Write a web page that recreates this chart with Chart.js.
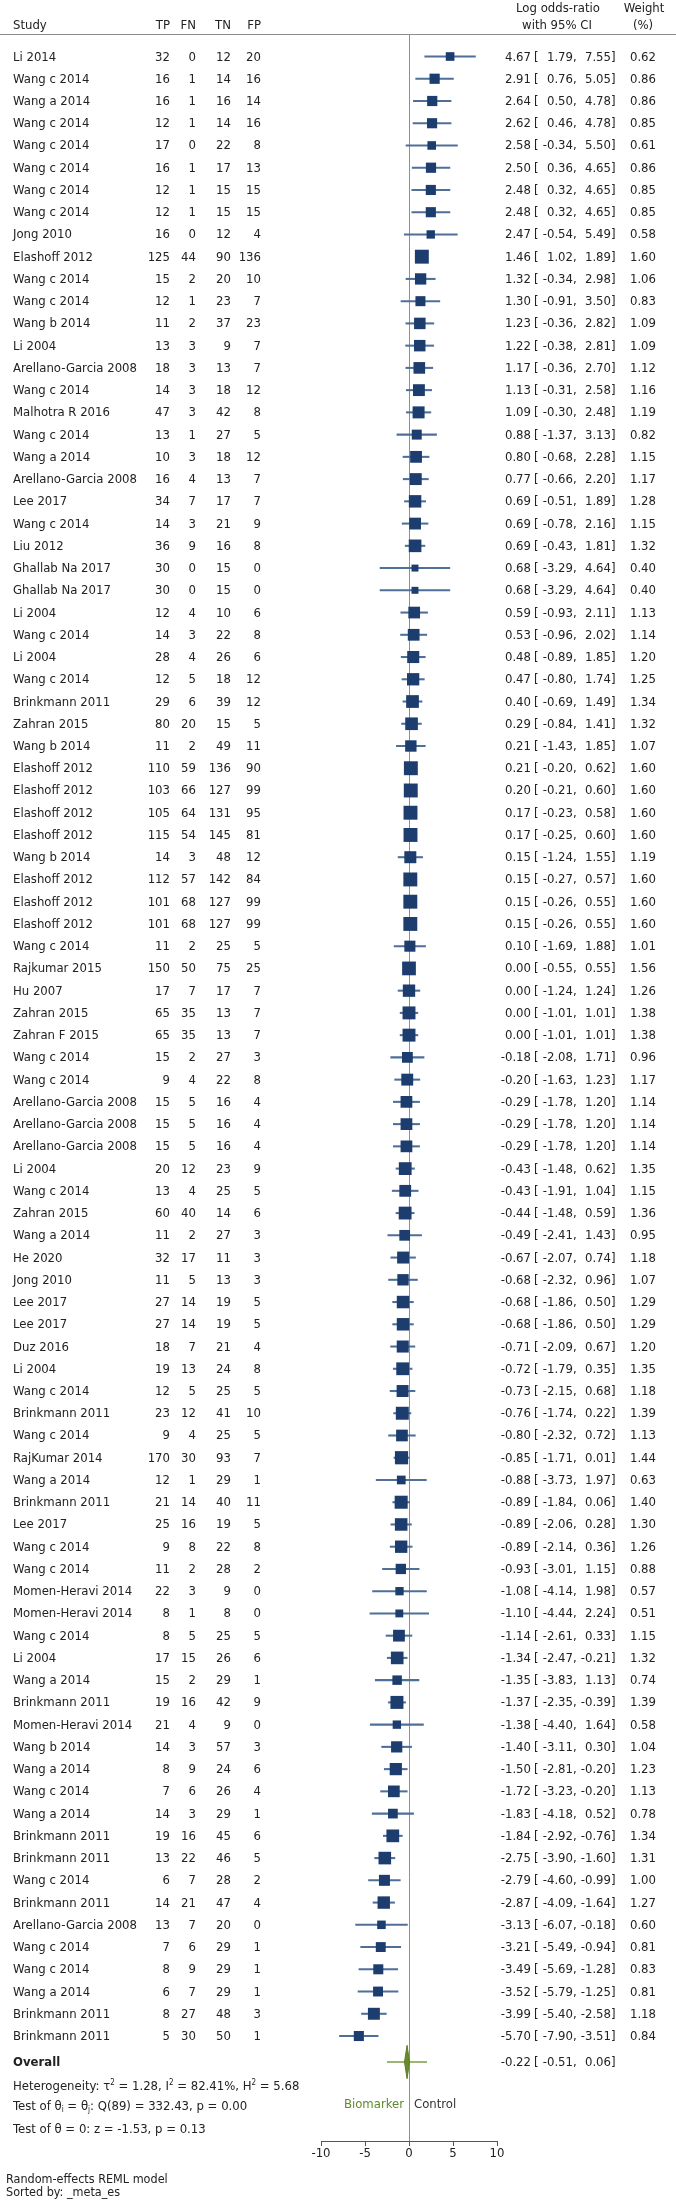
<!DOCTYPE html>
<html><head><meta charset="utf-8">
<script src="https://cdn.jsdelivr.net/npm/chart.js@4.4.0/dist/chart.umd.min.js"></script>
<style>
html,body{margin:0;padding:0;background:#fff;}
#wrap{position:relative;width:676px;height:2202px;overflow:hidden;background:#fff;}
#c{position:absolute;left:0;top:0;}
#ov{position:absolute;left:0;top:0;width:676px;height:2202px;font-family:"DejaVu Sans Condensed","DejaVu Sans",sans-serif;font-stretch:condensed;font-size:13px;color:#222;}
.t{position:absolute;white-space:nowrap;line-height:16px;height:16px;}
sup,sub{font-size:8px;line-height:0;}
sup{vertical-align:5px;} sub{vertical-align:-2px;}
#hline{position:absolute;left:0;width:676px;top:34px;height:1px;background:#8c8c8c;}
</style></head><body>
<div id="wrap"><canvas id="c" width="676" height="2202"></canvas><div id="ov"><div id="hline"></div></div></div>
<script>
const studies = ["Li 2014","Wang c 2014","Wang a 2014","Wang c 2014","Wang c 2014","Wang c 2014","Wang c 2014","Wang c 2014","Jong 2010","Elashoff 2012",
"Wang c 2014","Wang c 2014","Wang b 2014","Li 2004","Arellano-Garcia 2008","Wang c 2014","Malhotra R 2016","Wang c 2014","Wang a 2014","Arellano-Garcia 2008",
"Lee 2017","Wang c 2014","Liu 2012","Ghallab Na 2017","Ghallab Na 2017","Li 2004","Wang c 2014","Li 2004","Wang c 2014","Brinkmann 2011",
"Zahran 2015","Wang b 2014","Elashoff 2012","Elashoff 2012","Elashoff 2012","Elashoff 2012","Wang b 2014","Elashoff 2012","Elashoff 2012","Elashoff 2012",
"Wang c 2014","Rajkumar 2015","Hu 2007","Zahran 2015","Zahran F 2015","Wang c 2014","Wang c 2014","Arellano-Garcia 2008","Arellano-Garcia 2008","Arellano-Garcia 2008",
"Li 2004","Wang c 2014","Zahran 2015","Wang a 2014","He 2020","Jong 2010","Lee 2017","Lee 2017","Duz 2016","Li 2004",
"Wang c 2014","Brinkmann 2011","Wang c 2014","RajKumar 2014","Wang a 2014","Brinkmann 2011","Lee 2017","Wang c 2014","Wang c 2014","Momen-Heravi 2014",
"Momen-Heravi 2014","Wang c 2014","Li 2004","Wang a 2014","Brinkmann 2011","Momen-Heravi 2014","Wang b 2014","Wang a 2014","Wang c 2014","Wang a 2014",
"Brinkmann 2011","Brinkmann 2011","Wang c 2014","Brinkmann 2011","Arellano-Garcia 2008","Wang c 2014","Wang c 2014","Wang a 2014","Brinkmann 2011","Brinkmann 2011"];

const tp = [32,16,16,12,17,16,12,12,16,125, 15,12,11,13,18,14,47,13,10,16, 34,14,36,30,30,12,14,28,12,29, 80,11,110,103,105,115,14,112,101,101, 11,150,17,65,65,15,9,15,15,15, 20,13,60,11,32,11,27,27,18,19, 12,23,9,170,12,21,25,9,11,22, 8,8,17,15,19,21,14,8,7,14, 19,13,6,14,13,7,8,6,8,5];
const fn = [0,1,1,1,0,1,1,1,0,44, 2,1,2,3,3,3,3,1,3,4, 7,3,9,0,0,4,3,4,5,6, 20,2,59,66,64,54,3,57,68,68, 2,50,7,35,35,2,4,5,5,5, 12,4,40,2,17,5,14,14,7,13, 5,12,4,30,1,14,16,8,2,3, 1,5,15,2,16,4,3,9,6,3, 16,22,7,21,7,6,9,7,27,30];
const tn = [12,14,16,14,22,17,15,15,12,90, 20,23,37,9,13,18,42,27,18,13, 17,21,16,15,15,10,22,26,18,39, 15,49,136,127,131,145,48,142,127,127, 25,75,17,13,13,27,22,16,16,16, 23,25,14,27,11,13,19,19,21,24, 25,41,25,93,29,40,19,22,28,9, 8,25,26,29,42,9,57,24,26,29, 45,46,28,47,20,29,29,29,48,50];
const fp = [20,16,14,16,8,13,15,15,4,136, 10,7,23,7,7,12,8,5,12,7, 7,9,8,0,0,6,8,6,12,12, 5,11,90,99,95,81,12,84,99,99, 5,25,7,7,7,3,8,4,4,4, 9,5,6,3,3,3,5,5,4,8, 5,10,5,7,1,11,5,8,2,0, 0,5,6,1,9,0,3,6,4,1, 6,5,2,4,0,1,1,1,3,1];

const es = [4.67,2.91,2.64,2.62,2.58,2.50,2.48,2.48,2.47,1.46, 1.32,1.30,1.23,1.22,1.17,1.13,1.09,0.88,0.80,0.77, 0.69,0.69,0.69,0.68,0.68,0.59,0.53,0.48,0.47,0.40, 0.29,0.21,0.21,0.20,0.17,0.17,0.15,0.15,0.15,0.15, 0.10,0.00,0.00,0.00,0.00,-0.18,-0.20,-0.29,-0.29,-0.29, -0.43,-0.43,-0.44,-0.49,-0.67,-0.68,-0.68,-0.68,-0.71,-0.72, -0.73,-0.76,-0.80,-0.85,-0.88,-0.89,-0.89,-0.89,-0.93,-1.08, -1.10,-1.14,-1.34,-1.35,-1.37,-1.38,-1.40,-1.50,-1.72,-1.83, -1.84,-2.75,-2.79,-2.87,-3.13,-3.21,-3.49,-3.52,-3.99,-5.70];
const lo = [1.79,0.76,0.50,0.46,-0.34,0.36,0.32,0.32,-0.54,1.02, -0.34,-0.91,-0.36,-0.38,-0.36,-0.31,-0.30,-1.37,-0.68,-0.66, -0.51,-0.78,-0.43,-3.29,-3.29,-0.93,-0.96,-0.89,-0.80,-0.69, -0.84,-1.43,-0.20,-0.21,-0.23,-0.25,-1.24,-0.27,-0.26,-0.26, -1.69,-0.55,-1.24,-1.01,-1.01,-2.08,-1.63,-1.78,-1.78,-1.78, -1.48,-1.91,-1.48,-2.41,-2.07,-2.32,-1.86,-1.86,-2.09,-1.79, -2.15,-1.74,-2.32,-1.71,-3.73,-1.84,-2.06,-2.14,-3.01,-4.14, -4.44,-2.61,-2.47,-3.83,-2.35,-4.40,-3.11,-2.81,-3.23,-4.18, -2.92,-3.90,-4.60,-4.09,-6.07,-5.49,-5.69,-5.79,-5.40,-7.90];
const hi = [7.55,5.05,4.78,4.78,5.50,4.65,4.65,4.65,5.49,1.89, 2.98,3.50,2.82,2.81,2.70,2.58,2.48,3.13,2.28,2.20, 1.89,2.16,1.81,4.64,4.64,2.11,2.02,1.85,1.74,1.49, 1.41,1.85,0.62,0.60,0.58,0.60,1.55,0.57,0.55,0.55, 1.88,0.55,1.24,1.01,1.01,1.71,1.23,1.20,1.20,1.20, 0.62,1.04,0.59,1.43,0.74,0.96,0.50,0.50,0.67,0.35, 0.68,0.22,0.72,0.01,1.97,0.06,0.28,0.36,1.15,1.98, 2.24,0.33,-0.21,1.13,-0.39,1.64,0.30,-0.20,-0.20,0.52, -0.76,-1.60,-0.99,-1.64,-0.18,-0.94,-1.28,-1.25,-2.58,-3.51];
const weight = [0.62,0.86,0.86,0.85,0.61,0.86,0.85,0.85,0.58,1.60, 1.06,0.83,1.09,1.09,1.12,1.16,1.19,0.82,1.15,1.17, 1.28,1.15,1.32,0.40,0.40,1.13,1.14,1.20,1.25,1.34, 1.32,1.07,1.60,1.60,1.60,1.60,1.19,1.60,1.60,1.60, 1.01,1.56,1.26,1.38,1.38,0.96,1.17,1.14,1.14,1.14, 1.35,1.15,1.36,0.95,1.18,1.07,1.29,1.29,1.20,1.35, 1.18,1.39,1.13,1.44,0.63,1.40,1.30,1.26,0.88,0.57, 0.51,1.15,1.32,0.74,1.39,0.58,1.04,1.23,1.13,0.78, 1.34,1.31,1.00,1.27,0.60,0.81,0.83,0.81,1.18,0.84];

const overallEs = -0.22, overallLo = -0.51, overallHi = 0.06;
const predLo = -2.50, predHi = 2.05;
const xTicks = [-10, -5, 0, 5, 10];
const headerCols = ["TP", "FN", "TN", "FP"];

// ---------- layout (positions / styles) ----------
const W = 676, H = 2202;
const AX_LEFT = 321, AX_RIGHT = 497, TOP = 35, AX_Y = 2141;
const rowIdx = studies.map((_, i) => i + 1);
const overallRow = 91.17;
const ROW_MIN = 0.033, ROW_MAX = 94.72;
const FONT = '"DejaVu Sans Condensed","DejaVu Sans",sans-serif';

const ctx = document.getElementById('c').getContext('2d');
const chart = new Chart(ctx, {
  type: 'scatter',
  data: { datasets: [
    { type: 'scatter', data: rowIdx.map((r, i) => ({ x: es[i], y: r })),
      pointStyle: 'rect', backgroundColor: '#1c3d6e', borderWidth: 0,
      pointRadius: c => 11 * Math.sqrt(weight[c.dataIndex]) / Math.SQRT2, order: 1 },
    { type: 'bar', indexAxis: 'y', data: rowIdx.map((r, i) => ({ y: r, x: [lo[i], hi[i]] })),
      backgroundColor: '#4e6f98', borderWidth: 0, barThickness: 1.4, order: 2 },
    { type: 'scatter', showLine: true, data: [{ x: predLo, y: overallRow }, { x: predHi, y: overallRow }],
      borderColor: '#7d9b45', borderWidth: 1.5, pointRadius: 0, order: 3 },
    { type: 'scatter', showLine: true, fill: 'shape',
      data: [{ x: overallEs, y: overallRow - 0.75 }, { x: overallHi, y: overallRow }, { x: overallEs, y: overallRow + 0.75 }, { x: overallLo, y: overallRow }, { x: overallEs, y: overallRow - 0.75 }],
      borderColor: '#5f7d22', backgroundColor: '#6b8a2a', borderWidth: 1, pointRadius: 0, tension: 0, order: 0 }
  ]},
  options: {
    responsive: false, animation: false, devicePixelRatio: 1, events: [],
    layout: { padding: { left: AX_LEFT, right: W - AX_RIGHT, top: TOP, bottom: 0 } },
    plugins: { legend: { display: false }, tooltip: { enabled: false } },
    scales: {
      x: { type: 'linear', min: -10, max: 10, position: 'bottom', offset: false,
        afterBuildTicks: s => { s.ticks = xTicks.map(v => ({ value: v })); },
        afterFit: s => { s.height = H - AX_Y; },
        grid: { drawOnChartArea: true, drawTicks: true, tickLength: 5, tickColor: '#555', lineWidth: 1, offset: false,
          color: c => (c.tick && c.tick.value === 0) ? '#8a8f98' : 'rgba(0,0,0,0)' },
        border: { display: true, color: '#555', width: 1 },
        ticks: { font: { family: FONT, size: 13 }, color: '#222', padding: 0, maxRotation: 0, autoSkip: false }
      },
      y: { type: 'linear', display: false, reverse: true, offset: false, grace: 0, min: ROW_MIN, max: ROW_MAX,
           grid: { offset: false } }
    }
  }
});

// ---------- text overlay positioned through the chart's y scale ----------
const ov = document.getElementById('ov');
const ys = v => chart.scales.y.getPixelForValue(v);
function put(html, x, y, align, style) {
  const d = document.createElement('div');
  d.className = 't';
  d.innerHTML = html;
  if (align === 'right') d.style.right = (W - x) + 'px';
  else if (align === 'center') { d.style.left = (x - 100) + 'px'; d.style.width = '200px'; d.style.textAlign = 'center'; }
  else d.style.left = x + 'px';
  d.style.top = (y - 8) + 'px';
  if (style) Object.assign(d.style, style);
  ov.appendChild(d);
}
const colRight = [170, 196, 231, 261];
const f2 = v => v.toFixed(2);
function ciText(y, e, l, h) {
  put(f2(e), 531, y, 'right');
  put('[', 534, y, 'left');
  put(f2(l), 573, y, 'right');
  put(',', 573, y, 'left');
  put(f2(h), 611, y, 'right');
  put(']', 611, y, 'left');
}
// header
put('Study', 13, 25, 'left');
headerCols.forEach((h, k) => put(h, colRight[k], 25, 'right'));
put('Log odds-ratio', 558, 8, 'center');
put('with 95% CI', 557, 25, 'center');
put('Weight', 644, 8, 'center');
put('(%)', 643, 25, 'center');
// rows
rowIdx.forEach((r, i) => {
  const y = ys(r);
  put(studies[i], 13, y, 'left');
  [tp[i], fn[i], tn[i], fp[i]].forEach((v, k) => put(String(v), colRight[k], y, 'right'));
  ciText(y, es[i], lo[i], hi[i]);
  put(f2(weight[i]), 656, y, 'right');
});
// overall
put('Overall', 13, ys(overallRow), 'left', { fontWeight: 'bold' });
ciText(ys(overallRow), overallEs, overallLo, overallHi);
put('Heterogeneity: &tau;<sup>2</sup> = 1.28, I<sup>2</sup> = 82.41%, H<sup>2</sup> = 5.68', 13, ys(92.25), 'left');
put('Test of &theta;<sub>i</sub> = &theta;<sub>j</sub>: Q(89) = 332.43, p = 0.00', 13, ys(93.15), 'left');
put('Test of &theta; = 0: z = -1.53, p = 0.13', 13, ys(94.18), 'left');
const zx = chart.scales.x.getPixelForValue(0);
put('Biomarker', zx - 5, ys(93.07), 'right', { color: '#5f8a2c' });
put('Control', zx + 5, ys(93.07), 'left', { color: '#333' });
put('Random-effects REML model', 6, 2179, 'left', { fontSize: '12.5px' });
put('Sorted by: _meta_es', 6, 2192, 'left', { fontSize: '12.5px' });
</script>
</body></html>
